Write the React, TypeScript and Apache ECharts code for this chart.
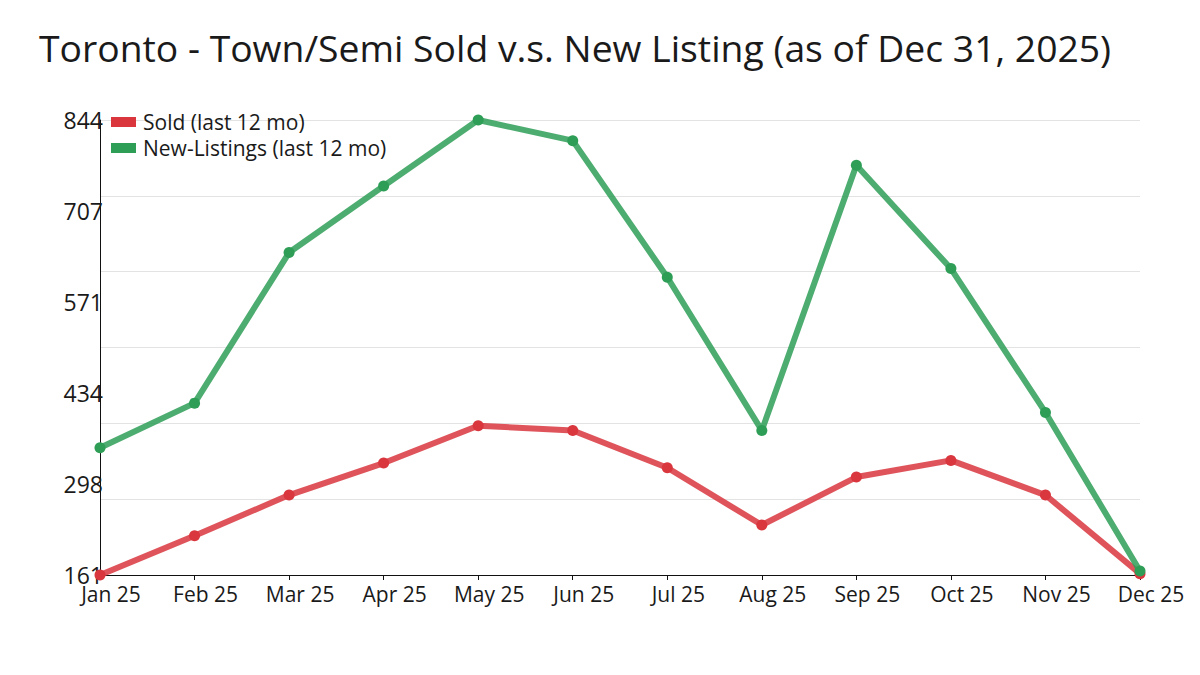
import React, { useEffect, useRef } from "react";
import * as echarts from "echarts";

const months = ["Jan 25", "Feb 25", "Mar 25", "Apr 25", "May 25", "Jun 25", "Jul 25", "Aug 25", "Sep 25", "Oct 25", "Nov 25", "Dec 25"];
const sold = [161, 220, 281, 329, 385, 378, 322, 236, 308, 333, 281, 163];
const newListings = [352, 419, 645, 745, 844, 813, 608, 378, 776, 621, 405, 167];
const yMin = 161;
const yMax = 844;
const yLabelValues = [161, 297.6, 434.2, 570.8, 707.4, 844];
const yGridValues = [161, 274.83, 388.67, 502.5, 616.33, 730.17, 844];

const RED = "#d9363e";
const GREEN = "#2e9e57";
const FONT = "Open Sans";

export default function App() {
  const ref = useRef<HTMLDivElement>(null);
  useEffect(() => {
    if (!ref.current) return;
    const chart = echarts.init(ref.current, null, { renderer: "svg" });
    chart.setOption({
      animation: false,
      backgroundColor: "#ffffff",
      title: {
        text: "Toronto - Town/Semi Sold v.s. New Listing (as of Dec 31, 2025)",
        left: 34,
        top: 24,
        textStyle: { fontFamily: FONT, fontSize: 37.3, fontWeight: "normal", color: "#1a1a1a" },
      },
      legend: {
        orient: "vertical",
        left: 106,
        top: 106,
        itemWidth: 25,
        itemHeight: 10,
        itemGap: 4,
        icon: "rect",
        textStyle: { fontFamily: FONT, fontSize: 21, lineHeight: 22, color: "#1a1a1a", padding: [0, 0, 0, 2] },
        data: [
          { name: "Sold (last 12 mo)", itemStyle: { color: RED, opacity: 1 } },
          { name: "New-Listings (last 12 mo)", itemStyle: { color: GREEN, opacity: 1 } },
        ],
      },
      grid: { left: 100, right: 60, top: 120, bottom: 100, containLabel: false },
      xAxis: {
        type: "category",
        data: months,
        boundaryGap: false,
        axisLine: { lineStyle: { color: "#111", width: 1 } },
        axisTick: { show: true, length: 5, lineStyle: { color: "#111" }, alignWithLabel: true },
        axisLabel: { fontFamily: FONT, fontSize: 21, color: "#1a1a1a", margin: 8, interval: 0, padding: [0, 0, 0, 22] },
        splitLine: { show: false },
      },
      yAxis: {
        type: "value",
        min: yMin,
        max: yMax,
        axisLine: { show: true, lineStyle: { color: "#111", width: 1 } },
        axisTick: { show: false, customValues: yGridValues },
        axisLabel: {
          customValues: yLabelValues,
          fontFamily: FONT,
          fontSize: 23,
          color: "#1a1a1a",
          margin: -3,
          padding: [0, 0, 4, 0],
          formatter: (v: number) => String(Math.round(v)),
        },
        splitLine: { show: true, lineStyle: { color: "#e3e3e3", width: 1 } },
      },
      series: [
        {
          name: "Sold (last 12 mo)",
          type: "line",
          data: sold,
          symbol: "circle",
          symbolSize: 11,
          lineStyle: { color: RED, width: 6, opacity: 0.85 },
          itemStyle: { color: RED },
        },
        {
          name: "New-Listings (last 12 mo)",
          type: "line",
          data: newListings,
          symbol: "circle",
          symbolSize: 11,
          lineStyle: { color: GREEN, width: 6, opacity: 0.85 },
          itemStyle: { color: GREEN },
        },
      ],
    });
    return () => chart.dispose();
  }, []);
  return <div ref={ref} style={{ width: 1200, height: 675, margin: -8 }} />;
}
